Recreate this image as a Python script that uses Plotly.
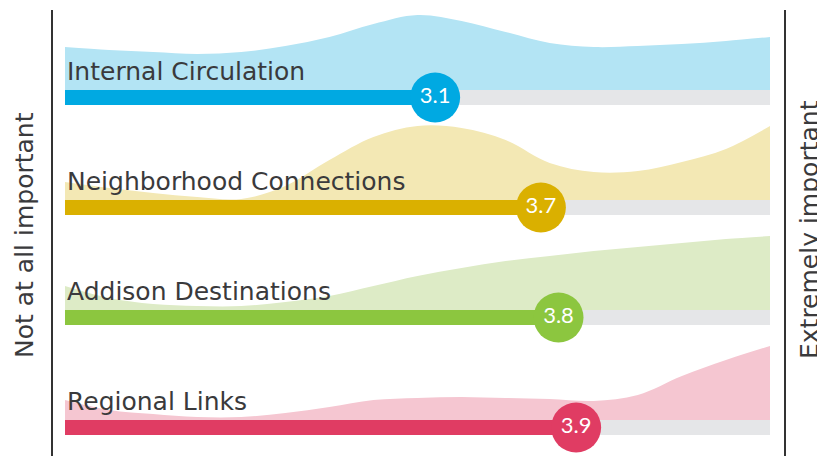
import plotly.graph_objects as go

# rating scale 1 (not at all important) .. 5 (extremely important)
categories = ['Internal Circulation', 'Neighborhood Connections',
              'Addison Destinations', 'Regional Links']
scores = [3.1, 3.7, 3.8, 3.9]
grid = [1.0, 1.25, 1.5, 1.75, 2.0, 2.25, 2.5, 2.75, 3.0,
        3.25, 3.5, 3.75, 4.0, 4.25, 4.5, 4.75, 5.0]
dist_internal = [43, 40, 38, 36, 38, 44, 53, 66, 75, 69, 58, 47, 43, 44, 46, 49, 53]
dist_neighborhood = [18, 12, 7, 3, 1, 14, 40, 63, 74, 72, 60, 37, 28, 29, 38, 51, 74]
dist_addison = [24, 12, 6, 4, 4, 8, 14, 24, 34, 42, 49, 54, 59, 63, 67, 71, 74]
dist_regional = [20, 10, 6, 3, 3, 7, 13, 20, 22, 23, 22, 21, 19, 25, 44, 60, 74]
distributions = [dist_internal, dist_neighborhood, dist_addison, dist_regional]

BAR_COLORS = ['#00A9E2', '#DAB000', '#8CC63F', '#E03C63']
AREA_COLORS = ['#B3E4F4', '#F3E8B4', '#DDEBC6', '#F5C6D1']
TRACK = '#E5E6E8'
TEXT = '#3A3A3C'
FONT = 'DejaVu Sans'

# page has an 8px body margin; the figure fills the rest of the window
PAGE = 8
W, H = 825 - PAGE, 456 - PAGE
ROW_TOP = [90, 200, 310, 420]
BAR_H = 15
SCALE_MIN, SCALE_MAX = 1, 5
PX_PER_UNIT = 176.25


def px(x):
    return (x - PAGE) / W


def py(y):
    return 1 - (y - PAGE) / H


fig = go.Figure()

for i, name in enumerate(categories):
    base = ROW_TOP[i]
    mid = base + BAR_H / 2
    # baseline for the density fill
    fig.add_trace(go.Scatter(x=grid, y=[base] * len(grid), mode='lines',
                             line=dict(width=0), hoverinfo='skip', showlegend=False))
    fig.add_trace(go.Scatter(x=grid, y=[base - d for d in distributions[i]],
                             mode='lines', line=dict(width=0, shape='spline'),
                             fill='tonexty', fillcolor=AREA_COLORS[i],
                             hoverinfo='skip', showlegend=False))
    # grey track and score bar
    fig.add_trace(go.Bar(y=[mid], x=[SCALE_MAX - SCALE_MIN], base=SCALE_MIN,
                         orientation='h', width=BAR_H, marker_color=TRACK,
                         marker_line_width=0, showlegend=False, hoverinfo='skip'))
    fig.add_trace(go.Bar(y=[mid], x=[scores[i] - SCALE_MIN], base=SCALE_MIN,
                         orientation='h', width=BAR_H, marker_color=BAR_COLORS[i],
                         marker_line_width=0, showlegend=False, hoverinfo='skip'))
    fig.add_trace(go.Scatter(x=[scores[i]], y=[mid], mode='markers+text',
                             marker=dict(size=50, color=BAR_COLORS[i]),
                             text=[f'{scores[i]:.1f}'], textposition='middle center',
                             textfont=dict(family='Lato', size=22, color='white'),
                             showlegend=False, hoverinfo='skip'))
    fig.add_annotation(x=SCALE_MIN, y=base - 19, text=name, showarrow=False,
                       xanchor='left', yanchor='middle',
                       font=dict(family=FONT, size=25, color=TEXT))

# end-of-scale rules and captions
for xs in [52, 785]:
    fig.add_shape(type='line', xref='paper', yref='paper', x0=px(xs), x1=px(xs),
                  y0=0, y1=py(10), line=dict(color='#333333', width=2))
fig.add_annotation(xref='paper', yref='paper', x=px(24), y=py(235),
                   xanchor='center', yanchor='middle',
                   text='Not at all important', textangle=-90, showarrow=False,
                   font=dict(family=FONT, size=25, color=TEXT))
fig.add_annotation(xref='paper', yref='paper', x=px(809), y=py(230),
                   xanchor='center', yanchor='middle',
                   text='Extremely important', textangle=-90, showarrow=False,
                   font=dict(family=FONT, size=25, color=TEXT))

fig.update_layout(
    width=W, height=H,
    margin=dict(t=0, l=0, r=0, b=0),
    paper_bgcolor='white', plot_bgcolor='white',
    barmode='overlay', bargap=0,
    xaxis=dict(range=[SCALE_MIN - (65 - PAGE) / PX_PER_UNIT,
                      SCALE_MIN + (825 - 65) / PX_PER_UNIT],
               visible=False, fixedrange=True),
    yaxis=dict(range=[456, PAGE], visible=False, fixedrange=True),
)

fig.write_html('out.html')
